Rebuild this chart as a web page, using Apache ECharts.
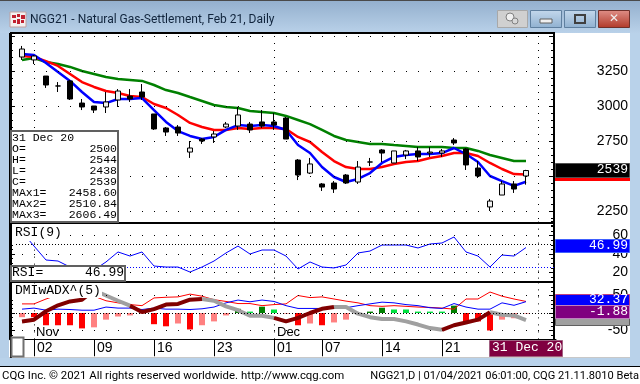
<!DOCTYPE html>
<html>
<head>
<meta charset="utf-8">
<style>html,body{margin:0;padding:0;background:#fff}#chart{width:640px;height:384px}</style>
<script src="https://cdn.jsdelivr.net/npm/echarts@6/dist/echarts.min.js"></script>
</head>
<body>
<div id="chart"></div>
<script>
// dates as MM-DD, the last two only fill the empty space on the right
const dates = ['10-30','11-02','11-03','11-04','11-05','11-06','11-09','11-10','11-11','11-12','11-13','11-16','11-17','11-18','11-19','11-20','11-23','11-24','11-25','11-27','11-30','12-01','12-02','12-03','12-04','12-07','12-08','12-09','12-10','12-11','12-14','12-15','12-16','12-17','12-18','12-21','12-22','12-23','12-24','12-28','12-29','12-30','12-31','01-04','01-05'];
const dayTicks = ['11-02','11-09','11-16','11-23','12-01','12-07','12-14','12-21'];
const monthLines = ['11-02','12-01','01-04'];

const opens = [3350,3329,3214,3143,3179,3021,3000,2993,3043,3071,3100,2943,2843,2850,2671,2764,2779,2850,2857,2871,2886,2886,2914,2614,2521,2443,2450,2507,2457,2600,2686,2593,2650,2679,2664,2664,2757,2693,2557,2279,2364,2443,2500];
const closes = [3407,3357,3150,3143,3050,2993,2971,3029,3107,3050,3064,2836,2814,2807,2700,2750,2800,2871,2936,2829,2857,2864,2764,2507,2586,2421,2407,2450,2564,2600,2664,2679,2679,2636,2671,2679,2736,2579,2500,2321,2443,2407,2539];
const highs = [3429,3364,3214,3171,3186,3050,3000,3100,3121,3121,3157,2943,2850,2864,2750,2771,2821,2886,2993,2886,2971,2950,2921,2621,2629,2450,2464,2514,2607,2629,2693,2679,2686,2707,2707,2693,2771,2700,2607,2336,2464,2464,2544];
const lows = [3329,3300,3129,3100,3043,2971,2950,2950,2993,3029,3043,2829,2786,2786,2629,2729,2736,2843,2829,2807,2843,2829,2764,2471,2514,2393,2379,2443,2443,2571,2600,2593,2621,2607,2636,2636,2721,2543,2486,2250,2364,2379,2438];
const ma1 = [3371,3364,3307,3243,3179,3100,3029,3021,3050,3050,3057,2971,2886,2821,2786,2764,2779,2829,2864,2857,2864,2857,2829,2721,2664,2564,2493,2457,2479,2521,2593,2636,2650,2657,2657,2664,2700,2657,2600,2500,2464,2429,2458.6];
const ma2 = [3357,3350,3321,3286,3229,3171,3136,3107,3093,3071,3064,3014,2986,2936,2879,2850,2829,2829,2843,2836,2843,2843,2836,2779,2743,2671,2607,2564,2550,2550,2564,2586,2600,2607,2629,2643,2664,2664,2643,2593,2550,2514,2510.84];
const ma3 = [3329,3343,3314,3300,3279,3250,3229,3207,3193,3186,3179,3150,3114,3093,3064,3036,3007,2993,2986,2964,2957,2950,2929,2900,2871,2829,2786,2757,2743,2729,2729,2721,2714,2707,2707,2707,2700,2700,2679,2650,2629,2607,2606.49];
const priceTicks = [2250,2500,2750,3000,3250,3500];
const priceLabels = [2250,2500,2750,3000,3250];

const rsi = [63.8,48.6,33.5,32.4,25.9,22.7,22.7,31.4,42.2,37.8,42.2,27,25.9,25.9,20.5,25.9,32.4,41.1,48.6,40,44.3,44.3,37.8,23.8,31.4,25.9,24.9,28.1,41.1,43.2,49.7,49.7,49.7,46.5,50.8,51.9,58.4,42.2,37.8,25.9,38.9,37.8,46.99];
const rsiTicks = [20,40,60];
const rsiLevels = [50.8, 26];

const diPlus = [26,26,40,52,52,57,48,35,29,24,21,43,45,46,54,48,38,33,27,27,21,24,26,50,44,46,40,34,29,21,19,21,19,17,16,14,11,40,40,60,48,40,33];
const diMinus = [11,14,8,11,10,8,8,17,14,14,10,14,11,11,10,12,17,29,37,32,37,33,21,13,13,13,13,15,21,26,31,29,24,21,15,13,27,17,11,11,29,22,32.37];
const wadx = [-24,-19,5,22,33,38,65,50,35,21,3,11,24,26,38,40,35,19,8,-8,-8,-14,-24,-14,0,12,17,17,-2,-12,-17,-17,-24,-33,-43,-48,-35,-27,-19,2,-5,-7,-20.07];
const wadxRising = [1,1,1,1,1,1,1,0,0,0,1,1,1,1,1,1,0,0,0,0,0,0,1,1,1,1,1,0,0,0,0,0,0,0,0,0,1,1,1,1,0,0,0];
const hist = [-12,-12,-35,-35,-35,-44,-41,-19,-10,-7,-2,-32,-38,-30,-47,-35,-24,-7,12,4,18,10,-1,-35,-30,-35,-27,-19,-1,4,15,10,10,4,4,4,21,-24,-24,-50,-19,-15,-1.88];
const histKinds = ['p','r','r','r','r','r','p','p','p','p','p','r','r','p','r','p','p','p','G','g','G','g','r','r','p','r','p','p','p','G','G','g','g','g','g','g','G','r','r','r','p','p','p'];
const histColors = { r: '#ff0000', p: '#ff8080', G: '#008000', g: '#00e040' };
const dmiTicks = [-50,0,50];
const dmiRows = [-50,50];

const infoRows = [['O=','2500'],['H=','2544'],['L=','2438'],['C=','2539'],['MAx1=','2458.60'],['MAx2=','2510.84'],['MAx3=','2606.49']];

const mono = '"Liberation Mono", monospace';
const sans = '"Liberation Sans", sans-serif';
const ui = 'Roboto, sans-serif';

// panels in pixels. the grids run a little past the panel rules so min and max
// stay multiples of the tick step, the rules drawn on top hide the overhang
const panels = [
  { top: 29, height: 196, min: 2150, max: 3550, step: 50, major: priceTicks, labels: priceLabels },
  { top: 221.625, height: 60.125, min: 10, max: 75, step: 5, major: rsiTicks, labels: rsiTicks },
  { top: 282.375, height: 56.875, min: -75, max: 87.5, step: 12.5, major: dmiTicks, labels: [-50,50] }
];

const grids = panels.map(p => ({ left: 16, width: 540, top: p.top, height: p.height, show: false }));

const xAxes = panels.map((p, i) => ({
  type: 'category', gridIndex: i, data: dates,
  axisLine: { show: i === 2, onZero: false, lineStyle: { color: '#000', width: 1 } },
  axisTick: {
    show: i === 2, length: 17, alignWithLabel: true,
    lineStyle: { color: '#000', width: 1 },
    interval: idx => dayTicks.includes(dates[idx])
  },
  axisLabel: {
    show: i === 2, align: 'left', margin: 2, padding: [0, 0, 0, 3],
    color: '#000', fontFamily: sans, fontSize: 14,
    interval: idx => dayTicks.includes(dates[idx]),
    formatter: v => v.slice(-2)
  },
  splitLine: {
    show: true, alignWithLabel: true,
    lineStyle: { color: '#000', width: 1, type: [1, 6] },
    interval: idx => monthLines.includes(dates[idx])
  }
}));

// each panel: fine ticks left and right, then long ticks and labels left and right
const yAxes = [];
panels.forEach((p, i) => {
  const base = {
    type: 'value', gridIndex: i, min: p.min, max: p.max, interval: p.step,
    splitLine: { show: false }, axisLabel: { show: false }
  };
  const line = { show: true, onZero: false, lineStyle: { color: '#000', width: 2 } };
  const fine = { show: true, inside: true, length: 3, lineStyle: { color: '#000' } };
  const long = { show: true, inside: true, length: 5, customValues: p.major, lineStyle: { color: '#000' } };
  yAxes.push(Object.assign({}, base, { position: 'right', offset: -2, axisLine: line, axisTick: fine }));
  yAxes.push(Object.assign({}, base, { position: 'left', offset: 6, axisLine: line, axisTick: fine }));
  yAxes.push(Object.assign({}, base, {
    position: 'right', offset: -2, axisLine: { show: false }, axisTick: long,
    axisLabel: {
      show: true, customValues: p.labels, align: 'right', margin: 74,
      color: '#000', fontFamily: sans, fontSize: 14, formatter: v => String(v)
    }
  }));
  yAxes.push(Object.assign({}, base, { position: 'left', offset: 6, axisLine: { show: false }, axisTick: long }));
});

function rows(values) {
  return values.map(v => ({ yAxis: v, lineStyle: { color: '#000', width: 1, type: [1, 11], dashOffset: -6 } }));
}
function levelLine(value, color) {
  return { yAxis: value, lineStyle: { color, width: 1, type: [1, 2] } };
}
function marks(data) {
  return { silent: true, symbol: 'none', label: { show: false }, animation: false, data };
}
function maLine(name, values, color, extra) {
  return Object.assign({
    name, type: 'line', xAxisIndex: 0, yAxisIndex: 0, data: values, z: 3,
    symbol: 'none', lineStyle: { color, width: 2.5 }
  }, extra || {});
}
function thinLine(name, values, color, xi, yi, extra) {
  return Object.assign({
    name, type: 'line', xAxisIndex: xi, yAxisIndex: yi, data: values, z: 3,
    symbol: 'none', lineStyle: { color, width: 1 }
  }, extra || {});
}
// wADX changes colour with direction, one series per colour
function adxPart(name, flag, color) {
  const part = wadx.map((v, i) => {
    const on = wadxRising[i] === flag || wadxRising[i + 1] === flag;
    return on ? v : null;
  });
  return {
    name, type: 'line', xAxisIndex: 2, yAxisIndex: 8, data: part, z: flag ? 5 : 4,
    symbol: 'none', lineStyle: { color, width: 4 }
  };
}

const series = [
  maLine('MAx3', ma3, '#008000', { markLine: marks(rows(priceTicks)) }),
  maLine('MAx2', ma2, '#ff0000'),
  maLine('MAx1', ma1, '#0000ff'),
  {
    name: 'NGG21', type: 'candlestick', xAxisIndex: 0, yAxisIndex: 0, z: 6, barWidth: 6,
    data: opens.map((o, i) => [o, closes[i], lows[i], highs[i]]),
    itemStyle: { color: '#f0f0f0', color0: '#000', borderColor: '#000', borderColor0: '#000', borderWidth: 1 }
  },
  thinLine('RSI', rsi, '#0000ff', 1, 4, {
    markLine: marks(rows(rsiTicks).concat([levelLine(rsiLevels[0], '#000'), levelLine(rsiLevels[1], '#0000ff')]))
  }),
  {
    name: 'hist', type: 'bar', xAxisIndex: 2, yAxisIndex: 8, z: 2, barWidth: 6,
    data: hist.map((v, i) => ({ value: v, itemStyle: { color: histColors[histKinds[i]] } })),
    markLine: marks(rows(dmiRows).concat([levelLine(0, '#000')]))
  },
  thinLine('DI+', diPlus, '#ff0000', 2, 8),
  thinLine('DI-', diMinus, '#0000ff', 2, 8),
  adxPart('wADX fall', 0, '#a0a0a0'),
  adxPart('wADX rise', 1, '#800000')
];

// window frame, boxes and read-outs
const Z = 50;
function rect(x, y, w, h, fill, stroke, lw) {
  return { type: 'rect', z: Z, silent: true, shape: { x, y, width: w, height: h },
    style: { fill: fill || 'none', stroke: stroke || 'none', lineWidth: lw || 1 } };
}
function txt(text, x, y, font, fill, align, zz) {
  return { type: 'text', z: zz || Z + 1, silent: true, x, y,
    style: { text, font, fill: fill || '#000', align: align || 'left', verticalAlign: 'middle' } };
}
function vgrad(a, b) {
  return new echarts.graphic.LinearGradient(0, 0, 0, 1, [{ offset: 0, color: a }, { offset: 1, color: b }]);
}

const m11 = '11.5px ' + mono, m13 = '13px ' + mono;
const elements = [
  // frame
  rect(0, 0, 640, 33, vgrad('#93afcd', '#b9d1e9')),
  rect(0, 0, 640, 1, '#4a4a4a'),
  rect(0, 33, 9, 335, '#b6cfe8'),
  rect(630, 33, 10, 335, '#b9d2ea'),
  rect(0, 358, 640, 8, '#b9d2ea'),
  rect(9, 357, 621, 1, '#c8c8c8'),
  rect(0, 366, 640, 1, '#000'),
  rect(0, 367, 640, 17, '#ffffff'),
  // title bar
  rect(10, 12, 16, 15, '#f4f0f0', '#c0a0a0'),
  rect(12, 15, 4, 3, '#c02030'), rect(17, 14, 3, 3, '#c02030'), rect(21, 15, 4, 4, '#c02030'),
  rect(13, 20, 3, 3, '#c02030'), rect(17, 19, 3, 5, '#c02030'), rect(21, 20, 3, 3, '#c02030'),
  txt('NGG21 - Natural Gas-Settlement, Feb 21, Daily', 30, 20, '12px ' + ui, '#10243c'),
  rect(497.5, 10.5, 30, 17, '#d0d0d0', '#a8a8a8'),
  { type: 'circle', z: Z, silent: true, shape: { cx: 510, cy: 17, r: 4 }, style: { fill: '#f0f0f0', stroke: '#808080' } },
  { type: 'circle', z: Z, silent: true, shape: { cx: 515, cy: 21, r: 3 }, style: { fill: '#d8d8d8', stroke: '#808080' } },
  rect(530.5, 10.5, 31, 17, vgrad('#c4d8ec', '#8fb0d0'), '#5f7f9f'),
  rect(540, 19, 12, 4, '#f0f0f0', '#606060'),
  rect(564.5, 10.5, 31, 17, vgrad('#c4d8ec', '#8fb0d0'), '#5f7f9f'),
  rect(575, 15, 10, 8, 'none', '#404040', 2),
  rect(598.5, 10.5, 31, 17, vgrad('#e09088', '#b03828'), '#70302a'),
  txt('✕', 614, 19, 'bold 12px "DejaVu Sans"', '#f0f0f0', 'center'),
  // panel rules
  rect(10, 32, 545, 2, '#000'),
  rect(10, 222, 545, 2, '#000'),
  rect(10, 281, 545, 2, '#000'),
  rect(10, 33, 2, 325, '#000'),
  rect(11.5, 337.5, 12, 19, '#ffffff', '#707070', 2),
  // info box
  rect(11, 131, 107, 91, '#ffffff', '#606060', 2),
  txt('31 Dec 20', 12, 138, m11)
];
infoRows.forEach((row, i) => {
  const y = 149 + i * 11;
  elements.push(txt(row[0], 12, y, m11), txt(row[1], 117, y, m11, '#000', 'right'));
});
elements.push(
  // panel captions sit on white patches that hide the lines behind them
  rect(12, 225, 50, 16, '#ffffff'),
  txt('RSI(9)', 15, 233, m13),
  rect(12, 284, 90, 14, '#ffffff'),
  txt('DMIwADX^(5)', 15, 291, m13),
  rect(11, 266, 114, 15, '#ffffff', '#606060', 2),
  txt('RSI=', 12, 273, m13),
  txt('46.99', 124, 273, m13, '#000', 'right'),
  txt('Nov', 36, 332, '13px ' + sans),
  txt('Dec', 277, 332, '13px ' + sans),
  // last value tags
  rect(555.5, 163.5, 74, 14, '#000', '#505050'),
  txt('2539', 628, 170, m13, '#fff', 'right'),
  rect(555, 178, 75, 3, '#ff0000'),
  rect(555.5, 239.5, 74, 13, '#0000ff', '#4060ff'),
  txt('46.99', 628, 246, m13, '#fff', 'right'),
  rect(555.5, 318.5, 74, 7, '#a0a0a0', '#606060'),
  rect(555.5, 294.5, 74, 11, '#0000ff', '#c04080'),
  txt('32.37', 628, 300, m13, '#fff', 'right'),
  rect(555.5, 305.5, 74, 13, '#800080', '#c080c0'),
  txt('-1.88', 628, 312, m13, '#fff', 'right'),
  rect(489.5, 340.5, 73, 16, '#800040', '#a06080'),
  txt('31 Dec 20', 492, 348, m13, '#fff'),
  // status line
  txt('CQG Inc. © 2021 All rights reserved worldwide. http://www.cqg.com', 2, 376, '11.4px ' + ui),
  txt('NGG21,D | 01/04/2021 06:01:00, CQG 21.11.8010 Beta', 639, 376, '11.1px ' + ui, '#000', 'right')
);

const chart = echarts.init(document.getElementById('chart'), null, { renderer: 'canvas' });
chart.setOption({
  animation: false,
  backgroundColor: '#fff',
  grid: grids,
  xAxis: xAxes,
  yAxis: yAxes,
  series,
  graphic: { elements }
});
</script>
</body>
</html>
